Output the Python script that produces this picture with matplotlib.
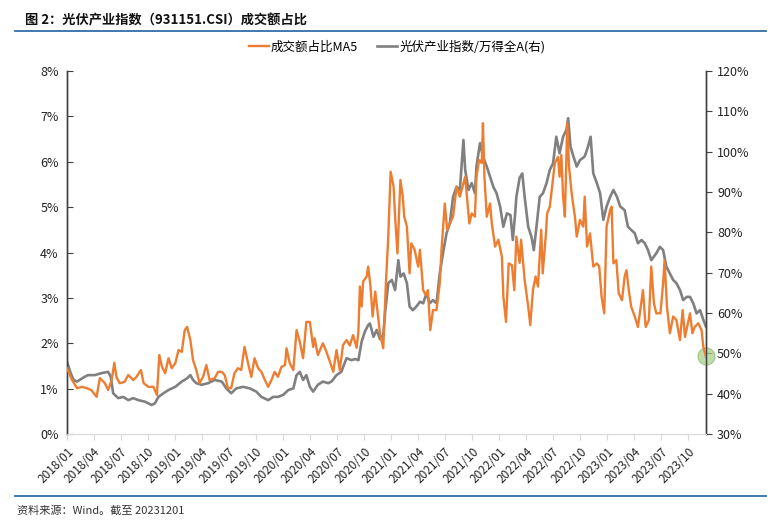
import matplotlib
matplotlib.use("Agg")
import matplotlib.pyplot as plt
import matplotlib.dates as mdates
from matplotlib.lines import Line2D
from matplotlib.ticker import FuncFormatter, MultipleLocator
import pandas as pd

plt.rcParams['font.family'] = ['Noto Sans CJK SC', 'DejaVu Sans']

title = "图 2：光伏产业指数（931151.CSI）成交额占比"
source = "资料来源：Wind。截至 20231201"
name_share = "成交额占比MA5"
name_rel = "光伏产业指数/万得全A(右)"

share_dates = [
    "2018-01-01", "2018-01-18", "2018-02-04", "2018-02-21", "2018-03-08", "2018-03-24", "2018-04-11", "2018-04-22",
    "2018-05-09", "2018-05-20", "2018-06-01", "2018-06-10", "2018-06-17", "2018-06-28", "2018-07-15", "2018-07-27",
    "2018-08-13", "2018-08-24", "2018-09-08", "2018-09-17", "2018-10-03", "2018-10-20", "2018-11-01", "2018-11-09",
    "2018-11-18", "2018-11-29", "2018-12-10", "2018-12-21", "2019-01-02", "2019-01-13", "2019-01-24", "2019-02-03",
    "2019-02-11", "2019-02-22", "2019-03-03", "2019-03-14", "2019-03-25", "2019-04-06", "2019-04-17", "2019-04-28",
    "2019-05-15", "2019-05-27", "2019-06-08", "2019-06-18", "2019-06-29", "2019-07-10", "2019-07-21", "2019-08-02",
    "2019-08-13", "2019-08-24", "2019-09-05", "2019-09-16", "2019-09-27", "2019-10-09", "2019-10-20", "2019-11-01",
    "2019-11-12", "2019-11-23", "2019-12-04", "2019-12-15", "2019-12-27", "2020-01-08", "2020-01-13", "2020-01-24",
    "2020-02-05", "2020-02-16", "2020-02-27", "2020-03-09", "2020-03-20", "2020-04-01", "2020-04-12", "2020-04-17",
    "2020-04-28", "2020-05-15", "2020-05-27", "2020-06-08", "2020-06-19", "2020-06-30", "2020-07-11", "2020-07-22",
    "2020-08-03", "2020-08-14", "2020-08-25", "2020-09-06", "2020-09-12", "2020-09-17", "2020-09-23", "2020-09-28",
    "2020-10-10", "2020-10-15", "2020-10-23", "2020-10-30", "2020-11-08", "2020-11-15", "2020-11-24", "2020-12-05",
    "2020-12-14", "2020-12-22", "2020-12-30", "2021-01-09", "2021-01-14", "2021-01-22", "2021-02-01", "2021-02-09",
    "2021-02-14", "2021-02-23", "2021-03-04", "2021-03-10", "2021-03-21", "2021-04-02", "2021-04-08", "2021-04-19",
    "2021-04-28", "2021-05-05", "2021-05-13", "2021-05-22", "2021-06-03", "2021-06-14", "2021-06-20", "2021-07-01",
    "2021-07-09", "2021-07-18", "2021-07-29", "2021-08-10", "2021-08-21", "2021-08-30", "2021-09-08", "2021-09-13",
    "2021-09-22", "2021-09-30", "2021-10-11", "2021-10-16", "2021-10-25", "2021-11-03", "2021-11-07", "2021-11-12",
    "2021-11-20", "2021-12-01", "2021-12-07", "2021-12-18", "2021-12-29", "2022-01-10", "2022-01-15", "2022-01-24",
    "2022-02-02", "2022-02-13", "2022-02-21", "2022-02-28", "2022-03-11", "2022-03-16", "2022-03-28", "2022-04-09",
    "2022-04-16", "2022-04-25", "2022-05-04", "2022-05-12", "2022-05-23", "2022-05-28", "2022-06-08", "2022-06-12",
    "2022-06-21", "2022-06-30", "2022-07-08", "2022-07-19", "2022-07-24", "2022-07-30", "2022-08-05", "2022-08-11",
    "2022-08-19", "2022-08-25", "2022-09-03", "2022-09-09", "2022-09-14", "2022-09-20", "2022-10-01", "2022-10-12",
    "2022-10-17", "2022-10-25", "2022-11-04", "2022-11-15", "2022-11-27", "2022-12-05", "2022-12-13", "2022-12-22",
    "2022-12-30", "2023-01-11", "2023-01-16", "2023-01-22", "2023-02-01", "2023-02-09", "2023-02-20", "2023-03-01",
    "2023-03-07", "2023-03-15", "2023-03-23", "2023-04-04", "2023-04-15", "2023-05-02", "2023-05-11", "2023-05-22",
    "2023-05-30", "2023-06-08", "2023-06-16", "2023-06-30", "2023-07-09", "2023-07-14", "2023-07-22", "2023-08-01",
    "2023-08-12", "2023-08-23", "2023-09-04", "2023-09-13", "2023-09-21", "2023-10-08", "2023-10-16", "2023-10-24",
    "2023-11-05", "2023-11-16", "2023-11-22", "2023-12-01",
]
share_values = [
    1.45, 1.19, 1.01, 1.04, 1.01, 0.97, 0.82, 1.23,
    1.12, 0.97, 1.19, 1.57, 1.26, 1.12, 1.15, 1.30,
    1.19, 1.26, 1.41, 1.12, 1.04, 1.04, 0.86, 1.74,
    1.48, 1.34, 1.67, 1.45, 1.56, 1.85, 1.81, 2.29,
    2.36, 2.07, 1.63, 1.41, 1.12, 1.26, 1.52, 1.19,
    1.23, 1.37, 1.37, 1.30, 1.01, 1.01, 1.34, 1.45,
    1.41, 1.92, 1.56, 1.26, 1.67, 1.45, 1.37, 1.19,
    1.04, 1.19, 1.37, 1.26, 1.48, 1.52, 1.89, 1.56,
    1.41, 2.29, 2.03, 1.67, 2.47, 2.47, 1.92, 2.11,
    1.74, 2.00, 1.81, 1.59, 1.37, 1.85, 1.41, 1.96,
    2.07, 1.95, 2.18, 1.90, 2.25, 3.25, 2.81, 3.36,
    3.47, 3.69, 3.25, 2.59, 3.14, 2.73, 2.22, 1.89,
    3.32, 4.35, 5.78, 5.45, 4.79, 3.98, 5.60, 5.23,
    4.79, 4.57, 3.54, 4.20, 4.06, 3.69, 4.06, 3.17,
    3.06, 3.17, 2.29, 2.73, 2.73, 3.32, 4.06, 5.08,
    4.50, 4.64, 4.79, 5.45, 5.23, 5.45, 5.67, 5.30,
    4.64, 4.86, 4.79, 5.67, 6.04, 5.97, 6.85, 5.67,
    4.79, 5.08, 4.64, 4.13, 4.28, 3.91, 3.03, 2.47,
    3.76, 3.72, 3.17, 4.35, 3.77, 4.28, 3.39, 2.81,
    2.40, 3.17, 3.47, 3.25, 4.50, 3.54, 4.42, 4.86,
    5.01, 5.52, 5.97, 6.11, 5.67, 6.15, 5.23, 4.79,
    6.85, 5.89, 5.30, 5.01, 4.79, 4.35, 4.72, 4.57,
    5.23, 4.13, 4.42, 3.69, 3.76, 3.69, 3.03, 2.66,
    4.57, 4.94, 5.01, 3.76, 3.83, 3.10, 2.95, 3.47,
    3.61, 3.17, 2.81, 2.59, 2.36, 3.17, 2.36, 2.51,
    3.69, 2.88, 2.66, 2.66, 3.32, 3.83, 2.81, 2.22,
    2.59, 2.51, 2.07, 2.73, 2.14, 2.66, 2.22, 2.36,
    2.44, 2.29, 1.92, 1.70,
]

rel_dates = [
    "2018-01-01", "2018-01-12", "2018-01-23", "2018-02-04", "2018-02-21", "2018-03-02", "2018-03-13", "2018-04-05",
    "2018-04-28", "2018-05-20", "2018-05-29", "2018-06-06", "2018-06-23", "2018-07-10", "2018-07-27", "2018-08-13",
    "2018-08-30", "2018-09-22", "2018-10-14", "2018-10-25", "2018-11-06", "2018-11-23", "2018-12-10", "2019-01-02",
    "2019-01-24", "2019-02-11", "2019-02-22", "2019-03-03", "2019-03-14", "2019-04-01", "2019-04-23", "2019-05-15",
    "2019-06-08", "2019-06-24", "2019-07-10", "2019-07-27", "2019-08-19", "2019-09-11", "2019-10-03", "2019-10-20",
    "2019-11-12", "2019-11-29", "2019-12-15", "2020-01-02", "2020-01-19", "2020-02-05", "2020-02-16", "2020-02-27",
    "2020-03-09", "2020-03-20", "2020-04-01", "2020-04-12", "2020-04-28", "2020-05-15", "2020-06-02", "2020-06-13",
    "2020-06-30", "2020-07-16", "2020-08-03", "2020-08-20", "2020-09-01", "2020-09-12", "2020-09-23", "2020-10-04",
    "2020-10-15", "2020-10-21", "2020-11-02", "2020-11-13", "2020-11-24", "2020-12-05", "2020-12-11", "2020-12-22",
    "2021-01-03", "2021-01-14", "2021-01-25", "2021-02-01", "2021-02-12", "2021-02-23", "2021-03-04", "2021-03-15",
    "2021-03-27", "2021-04-08", "2021-04-19", "2021-04-30", "2021-05-11", "2021-05-22", "2021-06-03", "2021-06-14",
    "2021-06-25", "2021-07-07", "2021-07-18", "2021-07-29", "2021-08-10", "2021-08-21", "2021-09-02", "2021-09-08",
    "2021-09-19", "2021-09-30", "2021-10-11", "2021-10-16", "2021-10-28", "2021-11-07", "2021-11-20", "2021-12-01",
    "2021-12-12", "2021-12-23", "2022-01-04", "2022-01-15", "2022-01-27", "2022-02-08", "2022-02-16", "2022-02-24",
    "2022-02-28", "2022-03-11", "2022-03-20", "2022-03-28", "2022-04-09", "2022-04-20", "2022-04-28", "2022-05-07",
    "2022-05-18", "2022-05-29", "2022-06-10", "2022-06-21", "2022-07-02", "2022-07-13", "2022-07-24", "2022-08-05",
    "2022-08-16", "2022-08-22", "2022-08-30", "2022-09-09", "2022-09-20", "2022-10-01", "2022-10-17", "2022-10-28",
    "2022-11-06", "2022-11-15", "2022-11-27", "2022-12-08", "2022-12-19", "2022-12-30", "2023-01-11", "2023-01-22",
    "2023-02-03", "2023-02-14", "2023-03-01", "2023-03-12", "2023-03-23", "2023-04-04", "2023-04-15", "2023-04-27",
    "2023-05-08", "2023-05-19", "2023-05-30", "2023-06-16", "2023-06-28", "2023-07-09", "2023-07-20", "2023-08-01",
    "2023-08-12", "2023-08-23", "2023-09-04", "2023-09-15", "2023-09-27", "2023-10-08", "2023-10-19", "2023-10-30",
    "2023-11-11", "2023-11-22", "2023-12-01",
]
rel_values = [
    47.9, 45.4, 43.4, 43.0, 43.8, 44.2, 44.6, 44.6,
    45.1, 45.4, 44.2, 40.1, 38.9, 39.2, 38.4, 38.9,
    38.4, 38.0, 37.2, 37.6, 39.2, 40.1, 40.9, 41.7,
    43.0, 43.8, 44.6, 43.4, 42.6, 42.2, 42.6, 43.4,
    43.0, 41.3, 40.1, 41.3, 41.7, 41.3, 40.5, 39.2,
    38.4, 39.2, 39.2, 39.7, 40.9, 41.3, 44.6, 45.4,
    43.4, 44.6, 41.7, 40.5, 42.2, 43.0, 42.6, 43.0,
    44.6, 45.4, 48.8, 48.3, 48.6, 48.3, 52.9, 55.4,
    57.0, 57.4, 54.1, 55.8, 53.5, 54.5, 59.9, 67.4,
    68.2, 65.7, 73.1, 69.0, 69.8, 67.4, 61.6, 60.7,
    61.6, 62.8, 62.4, 64.9, 62.4, 63.2, 62.4, 69.8,
    74.8, 79.8, 82.2, 88.8, 91.3, 90.5, 102.9, 95.5,
    90.5, 92.2, 89.7, 96.3, 102.1, 98.8, 96.3, 93.8,
    91.3, 89.7, 86.4, 81.4, 84.7, 84.3, 78.1, 84.7,
    88.8, 93.5, 94.6, 88.8, 81.4, 78.9, 75.6, 81.4,
    88.8, 89.7, 92.2, 95.5, 97.1, 103.7, 99.6, 103.7,
    105.4, 108.3, 101.2, 98.8, 96.3, 97.9, 98.8, 101.2,
    103.7, 94.6, 92.2, 89.7, 83.1, 86.4, 88.8, 90.5,
    88.8, 86.4, 85.5, 81.4, 80.6, 79.8, 77.3, 78.1,
    77.3, 75.6, 73.1, 74.8, 76.4, 75.6, 71.5, 69.8,
    68.2, 67.4, 65.7, 63.2, 64.0, 64.0, 62.4, 59.9,
    60.7, 58.3, 56.6,
]

last_date = "2023-12-01"
last_share = 1.72

x_start, x_end = "2018-01-01", "2023-12-01"

W, H = 784, 526
fig = plt.figure(figsize=(W / 100, H / 100), dpi=100)
ax = fig.add_axes([67 / W, 1 - 434 / H, (706 - 67) / W, (434 - 71) / H])
ax2 = ax.twinx()

orange = "#ED7D31"
grey = "#808080"

sd = pd.to_datetime(share_dates)
rd = pd.to_datetime(rel_dates)
l1, = ax.plot(sd, share_values, color=orange, lw=1.7, zorder=3)
l2, = ax2.plot(rd, rel_values, color=grey, lw=1.9, zorder=2)
ax.set_zorder(ax2.get_zorder() + 1)
ax.patch.set_visible(False)

ax2.scatter([pd.Timestamp(last_date)], [30 + (last_share / 8) * 90], s=150,
            color="#A9D18E", alpha=0.75, edgecolor="#8DB870", linewidth=0.8,
            clip_on=False, zorder=5)

ax.set_xlim(pd.Timestamp(x_start), pd.Timestamp(x_end))
ax.set_ylim(0, 8)
ax2.set_ylim(30, 120)
ax.yaxis.set_major_locator(MultipleLocator(1))
ax2.yaxis.set_major_locator(MultipleLocator(10))
ax.yaxis.set_major_formatter(FuncFormatter(lambda v, p: f"{v:.0f}%"))
ax2.yaxis.set_major_formatter(FuncFormatter(lambda v, p: f"{v:.0f}%"))

ticks = pd.date_range("2018-01-01", "2023-10-01", freq="QS")
ax.set_xticks(ticks)
ax.xaxis.set_major_formatter(mdates.DateFormatter("%Y/%m"))
for lab in ax.get_xticklabels():
    lab.set_rotation(45)
    lab.set_ha("right")
    lab.set_rotation_mode("anchor")

for a in (ax, ax2):
    a.spines["top"].set_visible(False)
    a.spines["bottom"].set_color("#D9D9D9")
    a.spines["left"].set_color("#404040")
    a.spines["right"].set_color("#404040")
    a.spines["left"].set_linewidth(1.0)
    a.spines["right"].set_linewidth(1.0)

ax.tick_params(axis="y", direction="in", length=4, color="#404040", labelsize=9, labelcolor="#222222", pad=6)
ax2.tick_params(axis="y", direction="out", length=4, color="#404040", labelsize=9, labelcolor="#222222", pad=4)
ax.tick_params(axis="x", direction="out", length=4, color="#D9D9D9", labelsize=8.5, labelcolor="#222222", pad=4)

fig.legend([l1, l2], [name_share, name_rel], loc="center", bbox_to_anchor=(397 / W, 1 - 47 / H),
           ncol=2, frameon=False, fontsize=9, handlelength=1.6, handletextpad=0.2, columnspacing=1.5)

fig.text(25 / W, 1 - 20 / H, title, fontsize=9.5, fontweight="bold", ha="left", va="center", color="#111111")
fig.add_artist(Line2D([15 / W, 766 / W], [1 - 31 / H] * 2, color="#2F6EA6", lw=1.3))
fig.add_artist(Line2D([15 / W, 766 / W], [1 - 496 / H] * 2, color="#2F6EA6", lw=1.3))
fig.text(17 / W, 1 - 510 / H, source, fontsize=8, ha="left", va="center", color="#333333")

fig.savefig("out.png", dpi=100)
